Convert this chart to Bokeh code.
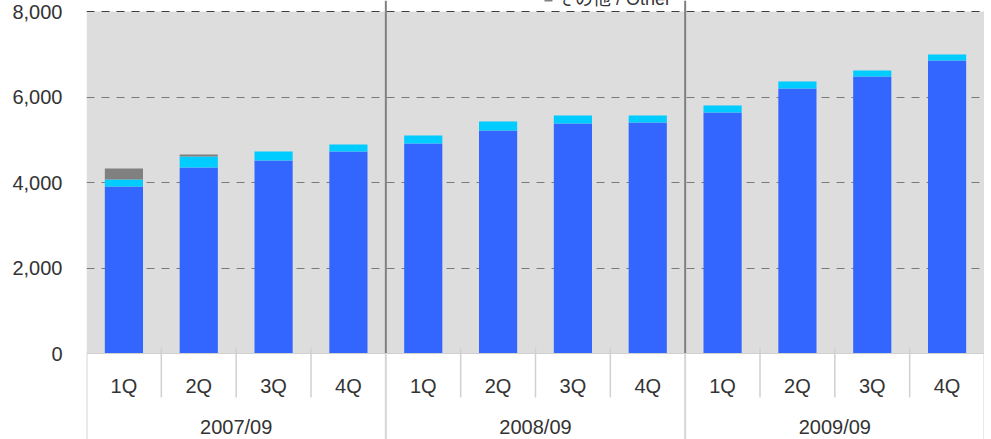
import numpy as np
from bokeh.plotting import figure
from bokeh.models import ColumnDataSource, Range1d, FixedTicker, NumeralTickFormatter, Span, Legend, LegendItem
from bokeh.core.properties import value
from bokeh.embed import file_html
from bokeh.resources import INLINE

# ---- data ----
years = ["2007/09", "2008/09", "2009/09"]
quarters = ["1Q", "2Q", "3Q", "4Q"]
series_main = [3906, 4351, 4515, 4725, 4912, 5216, 5380, 5404, 5637, 6199, 6480, 6854]
series_second = [164, 257, 210, 164, 187, 211, 187, 163, 164, 164, 140, 140]
series_other = [257, 47, 0, 0, 0, 0, 0, 0, 0, 0, 0, 0]
y_ticks = [0, 2000, 4000, 6000, 8000]
other_label = "その他 / Other"

# ---- layout helpers (screen geometry) ----
W, H = 984, 439
LEFT = 86
PX_TOP, PX_ZERO = 11, 353          # canvas px of 8000 and 0
k = (PX_ZERO - PX_TOP) / 8000.0


def v_at(px):
    return (PX_ZERO - px) / k


nq = len(quarters)
n = len(years) * nq
x = np.arange(n) + 0.5
q_labels = [quarters[i % nq] for i in range(n)]
g_x = [i * nq + nq / 2 for i in range(len(years))]

src = ColumnDataSource(dict(x=x, main=series_main, second=series_second, other=series_other))

FONT = "Liberation Sans"
TXT = "#333333"

p = figure(width=W, height=H, x_range=Range1d(0, n), y_range=Range1d(v_at(H), v_at(0)),
           output_backend="svg", toolbar_location=None, x_axis_location=None,
           min_border_left=LEFT, min_border_right=0, min_border_top=0, min_border_bottom=0)
p.outline_line_color = None
p.background_fill_color = "white"
p.border_fill_color = "white"

# plot-area background
p.quad(left=0, right=n, bottom=0, top=max(y_ticks), fill_color="#DDDDDD", line_color=None, level="image")

# grid
p.xgrid.visible = False
p.ygrid.ticker = FixedTicker(ticks=y_ticks[1:-1])
p.ygrid.grid_line_color = "#7A7A7A"
p.ygrid.grid_line_dash = "8 7"
p.ygrid.grid_line_width = 1
p.add_layout(Span(location=y_ticks[-1], dimension="width", line_color="#404040",
                  line_dash="8 7", line_width=1, level="underlay"))

# bars
bars = p.vbar_stack(["main", "second", "other"], x="x", width=0.51, source=src,
                    color=["#3366FF", "#00CCFF", "#808080"], line_color=None)

# y axis
ax = p.yaxis[0]
ax.ticker = FixedTicker(ticks=y_ticks)
ax.formatter = NumeralTickFormatter(format="0,0")
ax.axis_line_color = None
ax.major_tick_line_color = None
ax.minor_tick_line_color = None
ax.major_tick_out = 0
ax.major_tick_in = 0
ax.major_label_standoff = 24
ax.major_label_text_font = FONT
ax.major_label_text_font_size = "20px"
ax.major_label_text_color = TXT

# category axis line
p.add_layout(Span(location=0, dimension="width", line_color="#D0D0D0", line_width=1))

# group separators inside plot (dark) and below (light)
inner_groups = [i * nq for i in range(1, len(years))]
p.segment(x0=inner_groups, x1=inner_groups, y0=[0] * len(inner_groups), y1=[v_at(0)] * len(inner_groups),
          line_color="#808080", line_width=2)
all_groups = [i * nq for i in range(len(years) + 1)]
p.segment(x0=all_groups, x1=all_groups, y0=[0] * len(all_groups), y1=[v_at(H)] * len(all_groups),
          line_color="#D6D6D6", line_width=2)
# quarter separators
qsep = [i for i in range(1, n) if i % nq != 0]
p.segment(x0=qsep, x1=qsep, y0=[v_at(347)] * len(qsep), y1=[v_at(397)] * len(qsep),
          line_color="#D0D0D0", line_width=1.5)

# category labels
p.text(x=x, y=[v_at(385)] * n, text=q_labels, text_font=value(FONT), text_font_size="20px",
       text_color=TXT, text_align="center", text_baseline="middle")
p.text(x=g_x, y=[v_at(426)] * len(years), text=years, text_font=value(FONT), text_font_size="20px",
       text_color=TXT, text_align="center", text_baseline="middle")

# legend (only partly visible at the top edge, as in the source)
legend = Legend(items=[LegendItem(label=other_label, renderers=[bars[2]])],
                location=(543 - LEFT, H - 10), orientation="horizontal",
                glyph_width=10, glyph_height=10, label_standoff=4, label_height=18,
                padding=0, margin=0, spacing=0,
                background_fill_alpha=0, border_line_color=None,
                label_text_font="Liberation Sans, 'Noto Sans CJK JP'", label_text_font_size="18px",
                label_text_color=TXT)
p.add_layout(legend)

open("out.html", "w").write(file_html(p, INLINE))
